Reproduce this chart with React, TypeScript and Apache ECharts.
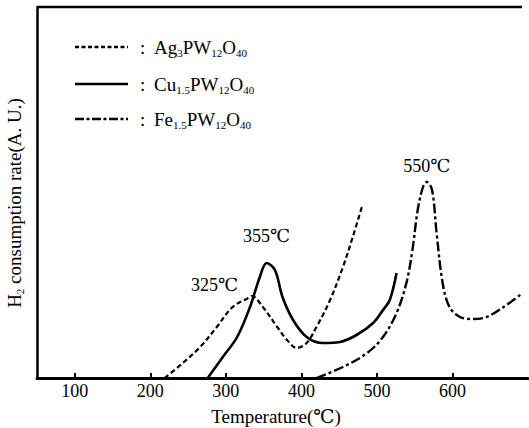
import React, { useEffect, useRef } from "react";
import * as echarts from "echarts";

// Ag3PW12O40 (dashed)
const agTemp = [219, 243, 266, 288, 309, 332, 334, 349, 368, 381, 394, 407, 420, 438, 455, 468, 480];
const agRate = [0, 15, 31, 51, 71, 81, 82, 71, 51, 38, 30, 35, 51, 78, 111, 141, 171];
// Cu1.5PW12O40 (solid)
const cuTemp = [276, 296, 315, 332, 345, 354, 365, 375, 389, 407, 428, 451, 473, 495, 508, 517, 526];
const cuRate = [0, 21, 41, 71, 101, 115, 108, 81, 58, 41, 35, 36, 43, 55, 68, 78, 105];
// Fe1.5PW12O40 (dash-dot)
const feTemp = [420, 455, 487, 508, 526, 539, 547, 554, 561, 566, 573, 579, 587, 596, 610, 627, 645, 666, 693];
const feRate = [0, 11, 25, 41, 65, 95, 128, 168, 191, 196, 188, 145, 95, 71, 61, 59, 61, 70, 85];

const xTicks = [100, 200, 300, 400, 500, 600];
const peakLabels = ["325℃", "355℃", "550℃"];
const peakTemps = [334, 354, 566];
const peakRates = [82, 115, 196];

const FONT = "'Liberation Serif', 'DejaVu Serif', serif";

const zip = (a: number[], b: number[]) => a.map((v, i) => [v, b[i]]);

export default function App() {
  const ref = useRef<HTMLDivElement>(null);
  useEffect(() => {
    if (!ref.current) return;
    const chart = echarts.init(ref.current, undefined, { renderer: "svg" });
    const rich = {
      n: { fontSize: 19, fontFamily: FONT, lineHeight: 22, fill: "#000" },
      s: { fontSize: 11, fontFamily: FONT, lineHeight: 13, verticalAlign: "bottom", fill: "#000" },
    };
    const legendRows = [
      { y: 47, dash: [4, 2.5], text: "{n|Ag}{s|3}{n|PW}{s|12}{n|O}{s|40}" },
      { y: 84, dash: null, text: "{n|Cu}{s|1.5}{n|PW}{s|12}{n|O}{s|40}" },
      { y: 119, dash: [9, 2.5, 3, 2.5], text: "{n|Fe}{s|1.5}{n|PW}{s|12}{n|O}{s|40}" },
    ];
    const graphic: any[] = [];
    legendRows.forEach((r) => {
      graphic.push({
        type: "line",
        shape: { x1: 75, y1: r.y, x2: 128, y2: r.y },
        style: { stroke: "#000", lineWidth: 2.3, lineDash: r.dash || undefined },
      });
      graphic.push({
        type: "text",
        x: 140,
        y: r.y,
        style: { text: ":", font: `19px ${FONT}`, fill: "#000", verticalAlign: "middle", align: "left" },
      });
      graphic.push({
        type: "text",
        x: 154,
        y: r.y,
        style: { text: r.text, rich, fill: "#000", verticalAlign: "middle", align: "left" },
      });
    });
    graphic.push({
      type: "line",
      shape: { x1: 37, y1: 7, x2: 522, y2: 7 },
      style: { stroke: "#000", lineWidth: 2.5 },
    });
    graphic.push({
      type: "text",
      x: 14,
      y: 203,
      rotation: Math.PI / 2,
      style: {
        text: "{n|H}{s|2}{n| consumption rate(A. U.)}",
        rich,
        fill: "#000",
        align: "center",
        verticalAlign: "middle",
      },
    });
    graphic.push({
      type: "text",
      x: 276,
      y: 416,
      style: {
        text: "Temperature(℃)",
        font: `19px ${FONT}`,
        fill: "#000",
        align: "center",
        verticalAlign: "middle",
      },
    });

    const lineSeries = (name: string, data: number[][], type: any, width: number, mp?: any) => ({
      name,
      type: "line",
      data,
      smooth: 0.35,
      showSymbol: false,
      symbol: "none",
      lineStyle: { color: "#000", width, type },
      markPoint: mp,
    });
    const mp = (i: number, offset: number[]) => ({
      symbol: "circle",
      symbolSize: 0,
      data: [{ coord: [peakTemps[i], peakRates[i]] }],
      label: {
        show: true,
        formatter: peakLabels[i],
        offset,
        color: "#000",
        fontSize: 18,
        fontFamily: FONT,
      },
    });

    chart.setOption({
      animation: false,
      grid: { left: 37, right: 1, top: 7, bottom: 50 },
      xAxis: {
        type: "value",
        min: 50,
        max: 700,
        axisLine: { lineStyle: { color: "#000", width: 3 } },
        axisTick: { inside: true, length: 5, lineStyle: { color: "#000", width: 2 }, customValues: xTicks },
        axisLabel: { color: "#000", fontSize: 18, fontFamily: FONT, margin: 4, customValues: xTicks },
        splitLine: { show: false },
      },
      yAxis: {
        type: "value",
        min: 0,
        max: 371,
        axisLine: { show: true, lineStyle: { color: "#000", width: 2.5 } },
        axisTick: { show: false },
        axisLabel: { show: false },
        splitLine: { show: false },
      },
      graphic,
      series: [
        lineSeries("Ag", zip(agTemp, agRate), [5, 3], 2.2, mp(0, [-37, -11])),
        lineSeries("Cu", zip(cuTemp, cuRate), "solid", 2.6, mp(1, [0, -27])),
        lineSeries("Fe", zip(feTemp, feRate), [10, 3, 3, 3], 2.4, mp(2, [0, -16])),
      ],
    });
    return () => chart.dispose();
  }, []);
  return <div ref={ref} style={{ width: 529, height: 428, position: "absolute", left: 0, top: 0 }} />;
}
